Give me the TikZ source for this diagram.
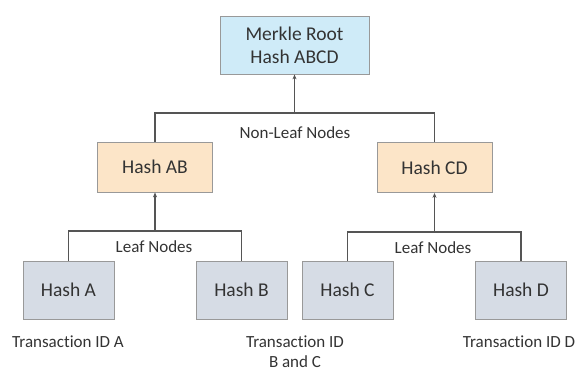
\documentclass[tikz,border=0pt]{standalone}
\usepackage{fontspec}
\setmainfont{Carlito}[Ligatures=CommonOff]
\usetikzlibrary{arrows.meta}
\definecolor{rootblue}{HTML}{CFEBF8}
\definecolor{midpeach}{HTML}{FCE5C8}
\definecolor{leafgray}{HTML}{D6DCE5}
\definecolor{edgegray}{HTML}{555555}
\tikzset{
    hbox/.style={draw=gray!80,thick,text=black!80,font=\fontsize{19.5}{23}\selectfont,align=center,inner sep=0pt},
    rootbox/.style={hbox,fill=rootblue,minimum width=149pt,minimum height=58pt},
    midbox/.style={hbox,fill=midpeach,minimum width=115pt,minimum height=50pt},
    leafbox/.style={hbox,fill=leafgray,minimum width=91pt,minimum height=58pt},
    lbl/.style={text=black!80,font=\fontsize{17}{20}\selectfont,align=center,inner sep=0pt},
    link/.style={draw=edgegray,line width=1.6pt},
    up/.style={link,-{Stealth[length=5pt,width=4pt]}},
}
\begin{document}
\begin{tikzpicture}[x=1pt,y=-1pt]
\useasboundingbox (0,0) rectangle (576,377);
\node[rootbox] (root) at (294.5,45) {Merkle Root\\Hash ABCD};
\node[midbox] (ab) at (155,167) {Hash AB};
\node[midbox] (cd) at (434.5,167.5) {Hash CD};
\node[leafbox] (a) at (68.5,290) {Hash A};
\node[leafbox] (b) at (241.5,290) {Hash B};
\node[leafbox] (c) at (347.5,290) {Hash C};
\node[leafbox] (d) at (521,290) {Hash D};
\coordinate (rootj) at (294.5,113);
\coordinate (abj) at (155,231);
\coordinate (cdj) at (434.5,232);
% connectors
\path[link] (ab.north) |- (rootj) -| (cd.north);
\path[up] (rootj) -- (root);
\path[link] (a.north) |- (abj) -| (b.north);
\path[up] (abj) -- (ab);
\path[link] (c.north) |- (cdj) -| (d.north);
\path[up] (cdj) -- (cd);
% labels
\node[lbl] (nonleaf) at (295,133) {Non-Leaf Nodes};
\node[lbl] (leafab) at (154,247) {Leaf Nodes};
\node[lbl] (leafcd) at (433,248) {Leaf Nodes};
\node[lbl] (txa) at (68,342) {Transaction ID A};
\node[lbl] (txbc) at (295,352) {Transaction ID\\B and C};
\node[lbl] (txd) at (519,342) {Transaction ID D};
\end{tikzpicture}
\end{document}
